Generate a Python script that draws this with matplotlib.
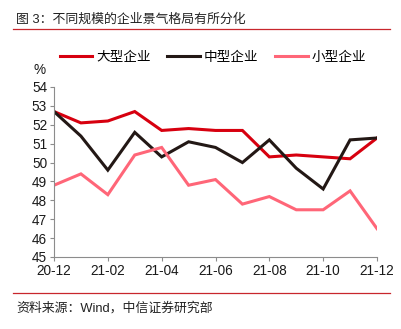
import matplotlib
matplotlib.use("Agg")
import matplotlib.pyplot as plt
from matplotlib.lines import Line2D

plt.rcParams['font.family'] = ['Liberation Sans', 'Noto Sans CJK SC', 'DejaVu Sans']

months = ['20-12', '21-01', '21-02', '21-03', '21-04', '21-05', '21-06',
          '21-07', '21-08', '21-09', '21-10', '21-11', '21-12']
large = [52.7, 52.1, 52.2, 52.7, 51.7, 51.8, 51.7, 51.7, 50.3, 50.4, 50.3, 50.2, 51.3]
medium = [52.7, 51.4, 49.6, 51.6, 50.3, 51.1, 50.8, 50.0, 51.2, 49.7, 48.6, 51.2, 51.3]
small = [48.8, 49.4, 48.3, 50.4, 50.8, 48.8, 49.1, 47.8, 48.2, 47.5, 47.5, 48.5, 46.5]
series_names = ['大型企业', '中型企业', '小型企业']
colors = ['#D7000F', '#231815', '#FF6678']

fig = plt.figure(figsize=(4.01, 3.29), dpi=100)
ax = fig.add_axes([54 / 401, 1 - 257 / 329, (377 - 54) / 401, (257 - 87) / 329])

x = list(range(len(months)))
for vals, c in zip([large, medium, small], colors):
    ax.plot(x, vals, color=c, lw=2.2, solid_joinstyle='miter')

ax.set_xlim(0, len(months) - 1)
ax.set_ylim(45, 54)
ax.set_yticks(range(45, 55))
ax.set_xticks(x[::2])
ax.set_xticklabels(months[::2])
for side in ['top', 'right']:
    ax.spines[side].set_visible(False)
for side in ['left', 'bottom']:
    ax.spines[side].set_color('#8C8C8C')
    ax.spines[side].set_linewidth(0.8)
ax.tick_params(axis='both', direction='out', length=3, width=0.8, color='#8C8C8C',
               labelsize=9.8, labelcolor='#1A1A1A', pad=2)

fig.text(40 / 401, 1 - 70 / 329, '%', fontsize=9.8, ha='center', va='center', color='#1A1A1A')

handles = [Line2D([], [], color=c, lw=2.2) for c in colors]
fig.legend(handles, series_names, loc='center', bbox_to_anchor=(213 / 401, 1 - 57 / 329),
           ncol=3, frameon=False, fontsize=9.8, handlelength=2.4, handletextpad=0.3,
           columnspacing=1.2)

# header and footer
fig.text(16 / 401, 1 - 20 / 329, '图 3：不同规模的企业景气格局有所分化', fontsize=9.3,
         ha='left', va='center', color='#222222')
fig.add_artist(Line2D([13 / 401, 390 / 401], [1 - 29 / 329] * 2, color='#C8262C', lw=0.9))
fig.add_artist(Line2D([13 / 401, 390 / 401], [1 - 293 / 329] * 2, color='#C8262C', lw=0.9))
fig.text(16 / 401, 1 - 308 / 329, '资料来源：Wind，中信证券研究部', fontsize=9.3,
         ha='left', va='center', color='#222222')

fig.savefig('out.png', dpi=100)
